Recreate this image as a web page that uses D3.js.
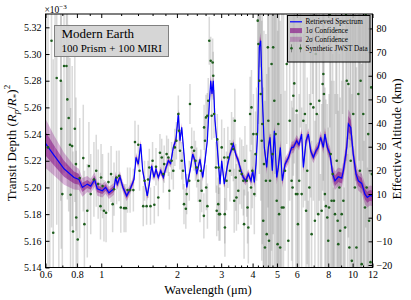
<!DOCTYPE html>
<html><head><meta charset="utf-8">
<script src="https://cdn.jsdelivr.net/npm/d3@7"></script>
<style>
body{margin:0;background:#fff}
svg{display:block}
text{font-family:"Liberation Serif","Times New Roman",serif}
</style>
</head><body>
<svg id="c" width="411" height="300"></svg>
<script>
// ---------- data ----------
const xTickValues = [0.6, 0.8, 1, 2, 3, 4, 5, 6, 8, 10, 12];
const xTickLabels = ["0.6", "0.8", "1", "2", "3", "4", "5", "6", "8", "10", "12"];
const xMinorTicks = [0.7, 0.9, 1.2, 1.4, 1.6, 1.8, 2.2, 2.4, 2.6, 2.8, 3.2, 3.4, 3.6, 3.8, 4.2, 4.4, 4.6, 4.8, 7, 9, 11];
const depthTicks = [5.14, 5.16, 5.18, 5.20, 5.22, 5.24, 5.26, 5.28, 5.30, 5.32];
const altTicks = [-20, -10, 0, 10, 20, 30, 40, 50, 60, 70, 80];
const legendLabels = ["Retrieved Spectrum", "1\u03c3 Confidence", "2\u03c3 Confidence", "Synthetic JWST Data"];
const boxLines = ["Modern Earth", "100 Prism + 100 MIRI"];

// retrieved spectrum: [wavelength (um), depth (x1e-3), 1 sigma half width, 2 sigma half width]
const spectrum = [
[0.600,5.2330,0.0090,0.0185],[0.649,5.2240,0.0075,0.0150],[0.711,5.2140,0.0060,0.0120],
[0.779,5.2075,0.0045,0.0090],[0.815,5.2060,0.0040,0.0080],[0.841,5.2000,0.0035,0.0070],
[0.880,5.2025,0.0030,0.0060],[0.908,5.2010,0.0028,0.0055],[0.941,5.2060,0.0027,0.0054],
[0.964,5.1990,0.0026,0.0052],[1.010,5.1975,0.0025,0.0050],[1.041,5.2000,0.0024,0.0048],
[1.073,5.1960,0.0023,0.0046],[1.124,5.1990,0.0022,0.0044],[1.141,5.2075,0.0022,0.0044],
[1.158,5.2025,0.0021,0.0042],[1.187,5.2080,0.0021,0.0042],[1.220,5.2000,0.0020,0.0040],
[1.262,5.1937,0.0020,0.0040],[1.302,5.1985,0.0019,0.0038],[1.350,5.2060,0.0018,0.0036],
[1.375,5.2225,0.0018,0.0036],[1.404,5.2175,0.0018,0.0035],[1.435,5.2325,0.0018,0.0035],
[1.462,5.2125,0.0017,0.0034],[1.524,5.1937,0.0017,0.0034],[1.553,5.2025,0.0016,0.0032],
[1.587,5.2162,0.0016,0.0032],[1.621,5.2075,0.0016,0.0032],[1.651,5.2137,0.0016,0.0032],
[1.686,5.2075,0.0016,0.0032],[1.724,5.2125,0.0016,0.0032],[1.766,5.2075,0.0016,0.0032],
[1.810,5.2150,0.0016,0.0032],[1.849,5.2200,0.0016,0.0032],[1.889,5.2180,0.0016,0.0032],
[1.935,5.2300,0.0016,0.0032],[1.983,5.2360,0.0017,0.0034],[2.026,5.2550,0.0018,0.0036],
[2.057,5.2350,0.0017,0.0034],[2.090,5.2450,0.0017,0.0034],[2.134,5.2250,0.0016,0.0032],
[2.188,5.2000,0.0016,0.0032],[2.254,5.2125,0.0016,0.0032],[2.311,5.2250,0.0016,0.0032],
[2.360,5.2200,0.0016,0.0032],[2.397,5.2100,0.0016,0.0032],[2.471,5.2210,0.0016,0.0032],
[2.533,5.2075,0.0016,0.0032],[2.587,5.2200,0.0017,0.0034],[2.642,5.2350,0.0018,0.0036],
[2.691,5.2625,0.0020,0.0040],[2.726,5.2800,0.0022,0.0044],[2.758,5.2700,0.0022,0.0044],
[2.791,5.2800,0.0022,0.0044],[2.835,5.2500,0.0020,0.0040],[2.895,5.2300,0.0018,0.0036],
[2.968,5.2025,0.0017,0.0034],[3.014,5.2200,0.0017,0.0034],[3.087,5.2025,0.0017,0.0034],
[3.184,5.2175,0.0017,0.0034],[3.252,5.2250,0.0017,0.0034],[3.352,5.2325,0.0018,0.0036],
[3.427,5.2250,0.0018,0.0036],[3.509,5.2200,0.0018,0.0036],[3.597,5.2125,0.0018,0.0036],
[3.674,5.2075,0.0018,0.0036],[3.756,5.2050,0.0018,0.0036],[3.847,5.2100,0.0018,0.0036],
[3.943,5.2050,0.0019,0.0038],[4.005,5.2125,0.0019,0.0038],[4.064,5.2037,0.0020,0.0040],
[4.128,5.2175,0.0022,0.0044],[4.193,5.2425,0.0025,0.0050],[4.254,5.3050,0.0030,0.0060],
[4.309,5.3100,0.0030,0.0060],[4.373,5.2675,0.0028,0.0056],[4.454,5.2300,0.0025,0.0050],
[4.553,5.2150,0.0025,0.0050],[4.621,5.2300,0.0025,0.0050],[4.693,5.2375,0.0025,0.0050],
[4.793,5.2125,0.0025,0.0050],[4.881,5.2425,0.0026,0.0052],[4.990,5.2075,0.0026,0.0052],
[5.063,5.2150,0.0026,0.0052],[5.158,5.2300,0.0026,0.0052],[5.253,5.2050,0.0026,0.0052],
[5.385,5.2175,0.0024,0.0048],[5.548,5.2220,0.0022,0.0044],[5.724,5.2300,0.0022,0.0044],
[5.808,5.2300,0.0022,0.0044],[5.992,5.2350,0.0022,0.0044],[6.120,5.2320,0.0022,0.0044],
[6.270,5.2400,0.0022,0.0044],[6.370,5.2150,0.0022,0.0044],[6.530,5.2350,0.0022,0.0044],
[6.670,5.2400,0.0022,0.0044],[6.810,5.2275,0.0022,0.0044],[6.980,5.2225,0.0022,0.0044],
[7.150,5.2275,0.0022,0.0044],[7.300,5.2300,0.0022,0.0044],[7.460,5.2375,0.0024,0.0048],
[7.650,5.2300,0.0024,0.0048],[7.760,5.2400,0.0025,0.0050],[7.930,5.2300,0.0025,0.0050],
[8.130,5.2250,0.0028,0.0056],[8.330,5.2100,0.0035,0.0065],[8.510,5.2050,0.0040,0.0070],
[8.770,5.2080,0.0040,0.0070],[9.050,5.2070,0.0040,0.0070],[9.190,5.2125,0.0042,0.0075],
[9.480,5.2300,0.0050,0.0090],[9.620,5.2475,0.0060,0.0110],[9.830,5.2450,0.0055,0.0100],
[10.06,5.2250,0.0045,0.0085],[10.32,5.2100,0.0040,0.0075],[10.54,5.2050,0.0040,0.0075],
[10.87,5.2030,0.0040,0.0075],[11.20,5.1950,0.0040,0.0075],[11.44,5.1925,0.0040,0.0075],
[11.73,5.1940,0.0040,0.0075],[12.00,5.1935,0.0040,0.0075]
];

// synthetic data: [wavelength (um), depth (x1e-3), 1 sigma error]
const prismObs = [
[0.604,5.36,0.16],[0.614,5.23,0.15],[0.624,5.09,0.15],[0.634,5.31,0.14],[0.644,5.166,0.13],
[0.655,5.35,0.12],[0.665,5.282,0.11],[0.678,5.12,0.10],[0.690,5.280,0.09],[0.693,5.244,0.09],
[0.700,5.195,0.085],[0.711,5.291,0.08],[0.727,5.291,0.075],[0.733,5.266,0.075],[0.742,5.252,0.07],
[0.751,5.232,0.065],[0.755,5.1945,0.065],[0.766,5.231,0.06],[0.772,5.167,0.06],[0.785,5.244,0.055],
[0.793,5.2175,0.05],[0.795,5.1775,0.05],[0.806,5.161,0.05],[0.821,5.207,0.045],[0.848,5.222,0.04],
[0.857,5.1725,0.04],[0.880,5.1825,0.035],[0.893,5.216,0.033],[0.908,5.195,0.03],[0.935,5.206,0.028],
[0.955,5.2125,0.027],[0.972,5.2025,0.026],[0.993,5.186,0.025],[0.998,5.2075,0.025],[1.012,5.201,0.024],
[1.025,5.1825,0.023],[1.045,5.181,0.022],[1.068,5.204,0.022],[1.094,5.210,0.021],[1.110,5.1875,0.021],
[1.124,5.1987,0.02],[1.151,5.2075,0.02],[1.177,5.2087,0.019],[1.196,5.185,0.019],[1.233,5.1845,0.018],
[1.253,5.1845,0.018],[1.272,5.198,0.017],[1.302,5.198,0.017],[1.342,5.198,0.016],[1.362,5.234,0.016],
[1.404,5.232,0.015],[1.420,5.2125,0.015],[1.469,5.186,0.015],[1.487,5.205,0.015],[1.515,5.186,0.014],
[1.535,5.206,0.014],[1.553,5.215,0.014],[1.570,5.186,0.014],[1.600,5.220,0.014],[1.626,5.187,0.014],
[1.651,5.2155,0.014],[1.686,5.1925,0.014],[1.712,5.226,0.014],[1.740,5.2225,0.014],[1.766,5.210,0.014],
[1.780,5.2175,0.014],[1.820,5.225,0.014],[1.849,5.2225,0.014],[1.866,5.1975,0.014],[1.905,5.220,0.014],
[1.935,5.2125,0.014],[1.962,5.230,0.014],[1.990,5.235,0.014],[2.026,5.255,0.014],[2.040,5.2425,0.014],
[2.057,5.2275,0.014],[2.090,5.220,0.014],[2.115,5.2125,0.014],[2.134,5.1875,0.015],[2.170,5.184,0.015],
[2.188,5.195,0.015],[2.240,5.205,0.015],[2.254,5.2625,0.015],[2.290,5.230,0.015],[2.340,5.2275,0.015],
[2.370,5.220,0.015],[2.397,5.215,0.015],[2.430,5.205,0.016],[2.471,5.190,0.016],[2.490,5.2125,0.016],
[2.510,5.1975,0.016],[2.560,5.1787,0.017],[2.565,5.245,0.017],[2.587,5.235,0.017],[2.610,5.2525,0.017],
[2.615,5.200,0.017],[2.642,5.2537,0.017],[2.645,5.186,0.017],[2.665,5.265,0.017],[2.690,5.310,0.018],
[2.726,5.295,0.018],[2.750,5.2537,0.018],[2.775,5.2937,0.018],[2.790,5.2837,0.018],[2.810,5.255,0.018],
[2.860,5.215,0.019],[2.880,5.1825,0.019],[2.895,5.236,0.019],[2.920,5.1875,0.02],[2.930,5.215,0.02],
[2.940,5.180,0.02],[2.968,5.180,0.02],[3.014,5.230,0.021],[3.087,5.2225,0.022],[3.100,5.180,0.022],
[3.105,5.170,0.022],[3.150,5.205,0.022],[3.190,5.2225,0.023],[3.250,5.2125,0.023],[3.300,5.2325,0.024],
[3.352,5.2287,0.024],[3.380,5.190,0.024],[3.400,5.250,0.024],[3.427,5.2075,0.025],[3.450,5.1925,0.025],
[3.509,5.1975,0.025],[3.560,5.2125,0.025],[3.620,5.210,0.026],[3.674,5.205,0.026],[3.700,5.1725,0.026],
[3.730,5.220,0.026],[3.790,5.205,0.027],[3.820,5.185,0.027],[3.847,5.170,0.027],[3.910,5.255,0.028],
[3.943,5.200,0.028],[3.960,5.260,0.028],[3.990,5.2125,0.028],[4.030,5.240,0.03],[4.064,5.195,0.03],
[4.110,5.225,0.032],[4.150,5.240,0.035],[4.193,5.325,0.05],[4.220,5.3075,0.06],[4.254,5.280,0.07],
[4.280,5.37,0.08],[4.310,5.270,0.08],[4.350,5.235,0.09],[4.373,5.2475,0.09],[4.410,5.175,0.10],
[4.440,5.2175,0.10],[4.480,5.155,0.11],[4.520,5.205,0.11],[4.553,5.165,0.12],[4.600,5.305,0.12],
[4.621,5.250,0.12],[4.650,5.160,0.13],[4.693,5.205,0.13],[4.720,5.11,0.13],[4.760,5.2925,0.14],
[4.800,5.225,0.14],[4.830,5.305,0.14],[4.881,5.265,0.15],[4.910,5.36,0.15],[4.940,5.240,0.15],
[4.990,5.190,0.16],[5.030,5.1575,0.16],[5.063,5.2475,0.16],[5.100,5.180,0.17],[5.150,5.155,0.17],
[5.180,5.10,0.17],[5.230,5.185,0.18],[5.310,5.185,0.18]
];
const miriObs = [
[5.385,5.2125,0.06],[5.470,5.2925,0.06],[5.55,5.16,0.06],[5.62,5.25,0.06],[5.72,5.205,0.06],
[5.77,5.200,0.06],[5.81,5.2687,0.06],[5.86,5.278,0.06],[5.95,5.195,0.06],[5.99,5.2575,0.06],
[6.03,5.195,0.06],[6.06,5.1725,0.06],[6.13,5.205,0.065],[6.20,5.31,0.065],[6.27,5.195,0.065],
[6.37,5.250,0.065],[6.46,5.255,0.065],[6.53,5.1825,0.065],[6.60,5.2125,0.07],[6.66,5.12,0.07],
[6.73,5.200,0.07],[6.81,5.2625,0.07],[6.87,5.165,0.07],[6.93,5.34,0.07],[6.98,5.260,0.07],
[7.08,5.175,0.075],[7.14,5.30,0.075],[7.20,5.255,0.075],[7.30,5.180,0.075],[7.37,5.265,0.075],
[7.45,5.13,0.08],[7.53,5.1825,0.08],[7.60,5.2775,0.08],[7.65,5.285,0.08],[7.69,5.270,0.08],
[7.76,5.195,0.08],[7.83,5.186,0.08],[7.93,5.1775,0.085],[8.00,5.160,0.085],[8.06,5.185,0.085],
[8.12,5.33,0.085],[8.18,5.225,0.09],[8.25,5.190,0.09],[8.33,5.210,0.09],[8.38,5.11,0.09],
[8.43,5.190,0.09],[8.51,5.180,0.09],[8.58,5.35,0.095],[8.65,5.220,0.095],[8.72,5.175,0.095],
[8.77,5.1575,0.1],[8.86,5.200,0.1],[8.92,5.1675,0.1],[8.98,5.10,0.1],[9.05,5.180,0.1],
[9.12,5.36,0.105],[9.19,5.190,0.105],[9.26,5.09,0.11],[9.34,5.170,0.11],[9.41,5.33,0.11],
[9.48,5.280,0.11],[9.55,5.11,0.115],[9.62,5.2775,0.115],[9.71,5.155,0.12],[9.77,5.35,0.12],
[9.83,5.220,0.12],[9.93,5.145,0.125],[10.00,5.38,0.125],[10.06,5.255,0.13],[10.14,5.09,0.13],
[10.21,5.200,0.13],[10.28,5.34,0.135],[10.36,5.155,0.135],[10.45,5.07,0.14],[10.54,5.270,0.14],
[10.62,5.36,0.14],[10.69,5.2125,0.145],[10.76,5.280,0.145],[10.82,5.06,0.15],[10.87,5.1425,0.15],
[10.95,5.37,0.15],[11.03,5.255,0.155],[11.11,5.08,0.155],[11.20,5.185,0.16],[11.28,5.33,0.16],
[11.37,5.200,0.165],[11.46,5.05,0.165],[11.54,5.240,0.17],[11.63,5.175,0.17],[11.70,5.38,0.17],
[11.78,5.144,0.175],[11.86,5.275,0.175],[11.93,5.210,0.18],[11.98,5.07,0.18]
];

// ---------- drawing ----------
const svg = d3.select("#c");
const L = 45.5, R = 372.5, T = 14, B = 267.5;
const FONT = '"Liberation Serif","Times New Roman",serif';
const x = d3.scaleLog().domain([0.6, 12]).range([L, R]);
const y = d3.scaleLinear().domain([5.14, 5.33]).range([B, T]);
const alt = d3.scaleLinear().domain([-21.06, 86.1]).range([B, T]);

svg.append("defs").append("clipPath").attr("id", "clip")
  .append("rect").attr("x", L).attr("y", T).attr("width", R - L).attr("height", B - T);
const plot = svg.append("g").attr("clip-path", "url(#clip)");

const obs = prismObs.concat(miriObs);
plot.append("g").selectAll("line").data(obs).join("line")
  .attr("x1", d => x(d[0])).attr("x2", d => x(d[0]))
  .attr("y1", d => y(d[1] - d[2])).attr("y2", d => y(d[1] + d[2]))
  .attr("stroke", "#808080").attr("stroke-opacity", 0.3).attr("stroke-width", 1.5);

const band = k => d3.area().x(d => x(d[0])).y0(d => y(d[1] - d[k])).y1(d => y(d[1] + d[k]));
plot.append("path").datum(spectrum).attr("d", band(3)).attr("fill", "#800080").attr("fill-opacity", 0.28);
plot.append("path").datum(spectrum).attr("d", band(2)).attr("fill", "#800080").attr("fill-opacity", 0.5);
plot.append("path").datum(spectrum)
  .attr("d", d3.line().x(d => x(d[0])).y(d => y(d[1])))
  .attr("fill", "none").attr("stroke", "#0000ff").attr("stroke-width", 1.2);

plot.append("g").selectAll("circle").data(obs).join("circle")
  .attr("cx", d => x(d[0])).attr("cy", d => y(d[1])).attr("r", 1.3)
  .attr("fill", "#1e5e1e");

// frame
svg.append("rect").attr("x", L).attr("y", T).attr("width", R - L).attr("height", B - T)
  .attr("fill", "none").attr("stroke", "#000").attr("stroke-width", 1);

function styleAxis(g) {
  g.select(".domain").remove();
  g.attr("font-family", FONT).attr("font-size", 10);
  g.selectAll("text").attr("fill", "#000");
  g.selectAll("line").attr("stroke", "#000");
}
function noText(g) { g.selectAll("text").remove(); }
svg.append("g").attr("transform", `translate(0,${B})`)
  .call(d3.axisBottom(x).tickValues(xTickValues).tickFormat((d, i) => xTickLabels[i]).tickSize(-4).tickPadding(3))
  .call(styleAxis);
svg.append("g").attr("transform", `translate(0,${B})`)
  .call(d3.axisBottom(x).tickValues(xMinorTicks).tickSize(-2)).call(styleAxis).call(noText);
svg.append("g").attr("transform", `translate(0,${T})`)
  .call(d3.axisTop(x).tickValues(xTickValues).tickSize(-4)).call(styleAxis).call(noText);
svg.append("g").attr("transform", `translate(0,${T})`)
  .call(d3.axisTop(x).tickValues(xMinorTicks).tickSize(-2)).call(styleAxis).call(noText);
svg.append("g").attr("transform", `translate(${L},0)`)
  .call(d3.axisLeft(y).tickValues(depthTicks).tickFormat(d3.format(".2f")).tickSize(-4).tickPadding(4))
  .call(styleAxis);
svg.append("g").attr("transform", `translate(${R},0)`)
  .call(d3.axisRight(alt).tickValues(altTicks).tickFormat(d3.format("d")).tickSize(-4).tickPadding(4))
  .call(styleAxis);

// x10^-3 multiplier
const mult = svg.append("text").attr("x", L - 1).attr("y", 12.5).attr("font-size", 9.5).attr("font-family", FONT);
mult.append("tspan").text("\u00d710");
mult.append("tspan").attr("dy", -4).attr("font-size", 7).text("\u22123");

// axis labels
svg.append("text").attr("x", (L + R) / 2 - 1).attr("y", 294).attr("text-anchor", "middle")
  .attr("font-size", 12.5).attr("font-family", FONT).text("Wavelength (\u03bcm)");

const yl = svg.append("text").attr("transform", "translate(15.5,143) rotate(-90)")
  .attr("text-anchor", "middle").attr("font-size", 13).attr("font-family", FONT);
yl.append("tspan").text("Transit Depth (");
yl.append("tspan").attr("font-style", "italic").text("R");
yl.append("tspan").attr("font-style", "italic").attr("font-size", 9).attr("dy", 3).text("p");
yl.append("tspan").attr("dy", -3).text("/");
yl.append("tspan").attr("font-style", "italic").text("R");
yl.append("tspan").attr("font-size", 9).attr("dy", 3).text("*");
yl.append("tspan").attr("dy", -3).text(")");
yl.append("tspan").attr("font-size", 9).attr("dy", -6).text("2");

svg.append("text").attr("transform", "translate(401,139) rotate(-90)")
  .attr("text-anchor", "middle").attr("font-size", 13).attr("font-family", FONT)
  .text("Effective Altitude (km)");

// annotation box
svg.append("rect").attr("x", 54.5).attr("y", 25.5).attr("width", 114).attr("height", 31)
  .attr("fill", "#d3d3d3").attr("fill-opacity", 0.92).attr("stroke", "#808080").attr("stroke-width", 1);
svg.append("text").attr("x", 61.5).attr("y", 38).attr("font-size", 13).attr("font-family", FONT).text(boxLines[0]);
svg.append("text").attr("x", 61.5).attr("y", 51.5).attr("font-size", 11).attr("font-family", FONT).text(boxLines[1]);

// legend
const lg = svg.append("g");
lg.append("rect").attr("x", 287.5).attr("y", 15.5).attr("width", 82.5).attr("height", 46.5)
  .attr("fill", "#bdbdbd").attr("fill-opacity", 0.82).attr("stroke", "#000").attr("stroke-width", 1);
const rows = [21.8, 30.6, 39.3, 48.3];
lg.append("line").attr("x1", 290).attr("x2", 302).attr("y1", rows[0]).attr("y2", rows[0])
  .attr("stroke", "#0000ff").attr("stroke-width", 1.2);
lg.append("rect").attr("x", 290).attr("y", rows[1] - 2.5).attr("width", 12).attr("height", 5)
  .attr("fill", "#800080").attr("fill-opacity", 0.6);
lg.append("rect").attr("x", 290).attr("y", rows[2] - 2.5).attr("width", 12).attr("height", 5)
  .attr("fill", "#800080").attr("fill-opacity", 0.28);
[291.5, 300.5].forEach(px => {
  lg.append("line").attr("x1", px).attr("x2", px).attr("y1", rows[3] - 4).attr("y2", rows[3] + 4)
    .attr("stroke", "#808080").attr("stroke-width", 1);
  lg.append("circle").attr("cx", px).attr("cy", rows[3]).attr("r", 1.3).attr("fill", "#1e5e1e");
});
lg.selectAll("text.l").data(legendLabels).join("text").attr("class", "l")
  .attr("x", 305.5).attr("y", (d, i) => rows[i]).attr("dy", "0.33em")
  .attr("font-size", 7.2).attr("font-family", FONT).attr("fill", "#000").text(d => d);
</script>
</body></html>
